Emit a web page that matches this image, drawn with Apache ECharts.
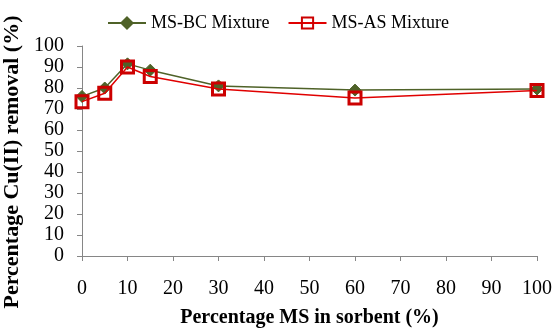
<!DOCTYPE html>
<html>
<head>
<meta charset="utf-8">
<script src="https://cdn.jsdelivr.net/npm/echarts@6/dist/echarts.min.js"></script>
<style>
html,body{margin:0;padding:0;background:#fff;}
#chart{width:556px;height:328px;}
</style>
</head>
<body>
<div id="chart"></div>
<script>
// Percentage of MS in the sorbent (x) and Cu(II) removal for each mixture
var msPercent = [0, 5, 10, 15, 30, 60, 100];
var bcRemoval = [76, 80, 91.5, 88.5, 81, 79, 79.5];
var asRemoval = [73.5, 77.5, 90, 85.5, 79.5, 75.2, 78.8];
var seriesNames = ['MS-BC Mixture', 'MS-AS Mixture'];

function pairs(xs, ys) {
  return xs.map(function (x, i) { return [x, ys[i]]; });
}

var font = 'Liberation Serif, Times New Roman, serif';
var axisGray = '#868686';

var chart = echarts.init(document.getElementById('chart'));
chart.setOption({
  animation: false,
  grid: { left: 82, right: 19, top: 46, bottom: 72, containLabel: false, outerBoundsMode: 'none' },
  legend: {
    top: 9,
    left: 102,
    itemWidth: 38,
    itemHeight: 14,
    itemGap: 18,
    textStyle: { fontFamily: font, fontSize: 18, color: '#000' },
    data: seriesNames
  },
  xAxis: {
    type: 'value',
    min: 0, max: 100, interval: 10,
    name: 'Percentage MS in sorbent (%)',
    nameLocation: 'middle',
    nameGap: 52,
    nameTextStyle: { fontFamily: font, fontSize: 20, fontWeight: 'bold', color: '#000' },
    axisLine: { show: true, lineStyle: { color: axisGray, width: 1 } },
    axisTick: { show: true, inside: false, length: 5, lineStyle: { color: axisGray } },
    axisLabel: { fontFamily: font, fontSize: 20, color: '#000', margin: 23 },
    splitLine: { show: false }
  },
  yAxis: {
    type: 'value',
    min: 0, max: 100, interval: 10,
    name: 'Percentage Cu(II) removal (%)',
    nameLocation: 'middle',
    nameGap: 59,
    nameTextStyle: { fontFamily: font, fontSize: 22, fontWeight: 'bold', color: '#000', padding: [0, 22, 0, 0] },
    axisLine: { show: true, lineStyle: { color: axisGray, width: 1 } },
    axisTick: { show: true, inside: false, length: 5, lineStyle: { color: axisGray } },
    axisLabel: { fontFamily: font, fontSize: 20, color: '#000', margin: 18 },
    splitLine: { show: false }
  },
  series: [
    {
      name: seriesNames[0],
      type: 'line',
      data: pairs(msPercent, bcRemoval),
      symbol: 'diamond',
      symbolSize: 12,
      z: 2,
      lineStyle: { color: '#4F6228', width: 1.5 },
      itemStyle: { color: '#4F6228', borderColor: '#4F6228', borderWidth: 1 }
    },
    {
      name: seriesNames[1],
      type: 'line',
      data: pairs(msPercent, asRemoval),
      symbol: 'rect',
      symbolSize: 12,
      z: 3,
      lineStyle: { color: '#E00000', width: 1.5 },
      itemStyle: { color: 'rgba(255,255,255,0)', borderColor: '#CC0000', borderWidth: 3 }
    }
  ]
});
</script>
</body>
</html>
